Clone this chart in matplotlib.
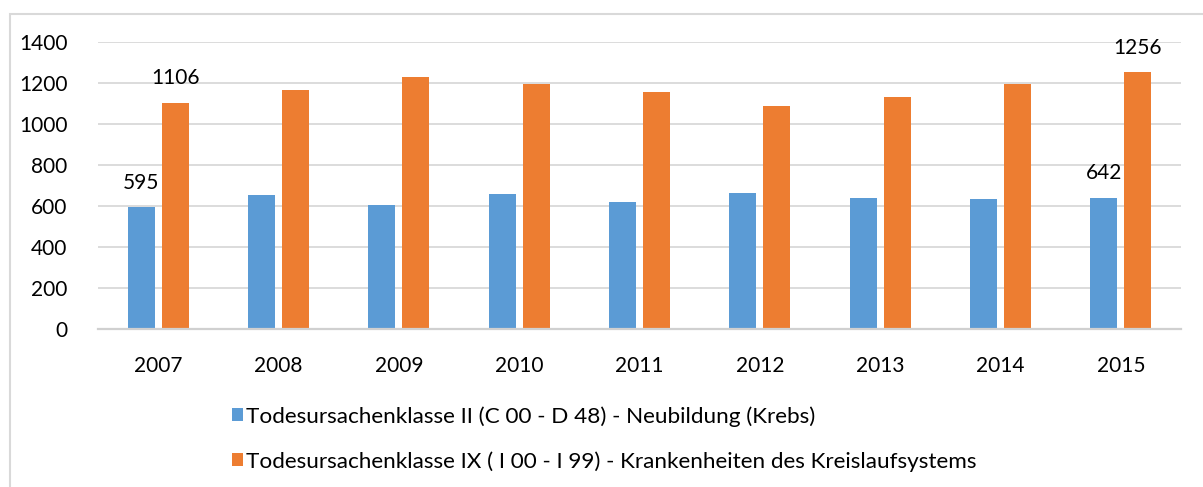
import matplotlib.pyplot as plt
from matplotlib.patches import Rectangle

plt.rcParams['font.family'] = ['Lato', 'DejaVu Sans']

# deaths per year by cause class
years = ['2007', '2008', '2009', '2010', '2011', '2012', '2013', '2014', '2015']
krebs = [595, 655, 608, 659, 620, 663, 642, 636, 642]
kreislauf = [1106, 1169, 1231, 1195, 1158, 1091, 1132, 1195, 1256]
labels = ['Todesursachenklasse II (C 00 - D 48) - Neubildung (Krebs)',
          'Todesursachenklasse IX ( I 00 - I 99) - Krankenheiten des Kreislaufsystems']
# only first and last year get value labels
labelled = [0, 8]

BLUE = '#5b9bd5'
ORANGE = '#ed7d31'
GRID = '#d9d9d9'

fig = plt.figure(figsize=(12.03, 4.87), dpi=100)
ax = fig.add_axes([0.0815, 0.3238, 0.9002, 0.5893])

x = list(range(len(years)))
w = 0.224
off = 0.141
b1 = ax.bar([i - off for i in x], krebs, w, color=BLUE, label=labels[0], zorder=3)
b2 = ax.bar([i + off for i in x], kreislauf, w, color=ORANGE, label=labels[1], zorder=3)

for i in labelled:
    for bars, vals in ((b1, krebs), (b2, kreislauf)):
        bar = bars[i]
        ax.annotate(str(vals[i]), (bar.get_x() + bar.get_width() / 2, vals[i]),
                    xytext=(0, 17.5), textcoords='offset points',
                    ha='center', va='center', fontsize=15, color='black', zorder=4)

ax.set_xlim(-0.5, len(years) - 0.5)
ax.set_ylim(0, 1400)
ax.set_yticks(range(0, 1401, 200))
ax.set_xticks(x)
ax.set_xticklabels(years)
ax.tick_params(axis='both', length=0, labelsize=15, colors='black')
ax.tick_params(axis='y', pad=22)
ax.tick_params(axis='x', pad=19)
ax.grid(axis='y', color=GRID, lw=1.3, zorder=0)
for s in ('top', 'right', 'left'):
    ax.spines[s].set_visible(False)
ax.spines['bottom'].set_color('#d0d0d0')
ax.spines['bottom'].set_linewidth(1.6)
ax.spines['bottom'].set_zorder(4)

fig.legend(handles=[b1, b2], loc='upper left', bbox_to_anchor=(0.193, 0.1665),
           frameon=False, fontsize=16.2, handlelength=0.5, handleheight=0.5,
           handletextpad=0.1, labelspacing=1.1, borderpad=0, borderaxespad=0)

# chart frame
fig.patches.append(Rectangle((10 / 1203, -0.1), 1.2, 1 - 14 / 487 + 0.1,
                             transform=fig.transFigure, fill=False,
                             edgecolor=GRID, lw=1.5))

fig.savefig('out.png', dpi=100)
